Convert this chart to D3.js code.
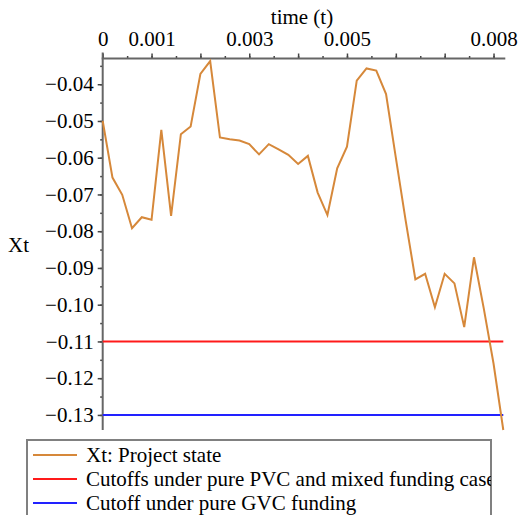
<!DOCTYPE html>
<html>
<head>
<meta charset="utf-8">
<script src="https://cdn.jsdelivr.net/npm/d3@7"></script>
<style>
  html, body { margin: 0; padding: 0; background: #fff; }
  svg { display: block; font-family: "Liberation Serif", "Times New Roman", serif; }
  text { font-family: "Liberation Serif", "Times New Roman", serif; fill: #000; }
</style>
</head>
<body>
<svg id="chart" width="519" height="515"></svg>
<script>
// Sample path of the project state Xt over time t
const timeValues = [
  0, 0.0002, 0.0004, 0.0006, 0.0008, 0.0010, 0.0012, 0.0014, 0.0016, 0.0018,
  0.0020, 0.0022, 0.0024, 0.0026, 0.0028, 0.0030, 0.0032, 0.0034, 0.0036, 0.0038,
  0.0040, 0.0042, 0.0044, 0.0046, 0.0048, 0.0050, 0.0052, 0.0054, 0.0056, 0.0058,
  0.0060, 0.0062, 0.0064, 0.0066, 0.0068, 0.0070, 0.0072, 0.0074, 0.0076, 0.0078,
  0.0080, 0.0082
];
const stateValues = [
  -0.0500, -0.0654, -0.0701, -0.0792, -0.0762, -0.0769, -0.0524, -0.0758, -0.0536, -0.0515,
  -0.0372, -0.0337, -0.0545, -0.0550, -0.0553, -0.0563, -0.0591, -0.0563, -0.0577, -0.0592,
  -0.0617, -0.0595, -0.0695, -0.0756, -0.0629, -0.0570, -0.0390, -0.0357, -0.0363, -0.0427,
  -0.0600, -0.0770, -0.0931, -0.0916, -0.1007, -0.0916, -0.0942, -0.1061, -0.0871, -0.1010,
  -0.1160, -0.1341
];

// Funding cutoffs (horizontal reference levels)
const cutoffPVC = -0.11;
const cutoffGVC = -0.13;

// Axis ticks
const xMajorTicks = [0, 0.001, 0.002, 0.003, 0.004, 0.005, 0.006, 0.007, 0.008];
const xLabelledTicks = [0, 0.001, 0.003, 0.005, 0.008];
const xTickLabels = ["0", "0.001", "0.003", "0.005", "0.008"];
const yMajorTicks = [-0.04, -0.05, -0.06, -0.07, -0.08, -0.09, -0.10, -0.11, -0.12, -0.13];
const yTickLabels = ["\u22120.04", "\u22120.05", "\u22120.06", "\u22120.07", "\u22120.08",
                     "\u22120.09", "\u22120.10", "\u22120.11", "\u22120.12", "\u22120.13"];

const legendLabels = [
  "Xt: Project state",
  "Cutoffs under pure PVC and mixed funding case",
  "Cutoff under pure GVC funding"
];
const seriesColors = ["#d6883a", "#ff1a1a", "#2222ff"];

const svg = d3.select("#chart");
const plotLeft = 102.7, plotRight = 503.3, plotTop = 58.5, plotBottom = 430;

const x = d3.scaleLinear().domain([0, 0.0082]).range([plotLeft, plotRight]);
const y = d3.scaleLinear().domain([-0.033, -0.1341]).range([plotTop, plotBottom]);

const axisColor = "#666";
const fontSize = 21;
const serif = "'Liberation Serif', 'Times New Roman', serif";

// Minor ticks along the top axis
const xMinor = d3.range(0, 0.0082, 0.0005);
const gxMinor = svg.append("g").attr("transform", `translate(0,${plotTop})`)
  .call(d3.axisTop(x).tickValues(xMinor).tickSize(2.5).tickFormat(""));
gxMinor.select(".domain").remove();
gxMinor.selectAll("line").attr("stroke", "#444").attr("stroke-width", 1.5);

// Major ticks and labels on the top axis
const gx = svg.append("g").attr("transform", `translate(0,${plotTop})`)
  .call(d3.axisTop(x).tickValues(xMajorTicks).tickSize(5).tickPadding(8)
    .tickFormat(d => {
      const i = xLabelledTicks.findIndex(v => Math.abs(v - d) < 1e-9);
      return i >= 0 ? xTickLabels[i] : "";
    }));
gx.attr("font-family", serif);
gx.select(".domain").remove();
gx.selectAll("line").attr("stroke", "#444").attr("stroke-width", 1.5);
gx.selectAll("text").style("font-family", serif)
  .style("font-size", fontSize + "px").attr("fill", "#000");

svg.append("line")
  .attr("x1", plotLeft - 1).attr("x2", plotRight + 2)
  .attr("y1", plotTop).attr("y2", plotTop)
  .attr("stroke", axisColor).attr("stroke-width", 2);

// Left axis: minor ticks
const yMinor = d3.range(-0.035, -0.134, -0.005);
const gyMinor = svg.append("g").attr("transform", `translate(${plotLeft},0)`)
  .call(d3.axisLeft(y).tickValues(yMinor).tickSize(2.5).tickFormat(""));
gyMinor.select(".domain").remove();
gyMinor.selectAll("line").attr("stroke", "#444").attr("stroke-width", 1.5);

// Left axis: major ticks with labels
const gy = svg.append("g").attr("transform", `translate(${plotLeft},0)`)
  .call(d3.axisLeft(y).tickValues(yMajorTicks).tickSize(5).tickPadding(4)
    .tickFormat((d, i) => yTickLabels[i]));
gy.attr("font-family", serif);
gy.select(".domain").remove();
gy.selectAll("line").attr("stroke", "#444").attr("stroke-width", 1.5);
gy.selectAll("text").style("font-family", serif)
  .style("font-size", fontSize + "px").attr("fill", "#000");

svg.append("line")
  .attr("x1", plotLeft).attr("x2", plotLeft)
  .attr("y1", plotTop - 6).attr("y2", plotBottom)
  .attr("stroke", axisColor).attr("stroke-width", 2);

// Axis titles
svg.append("text").attr("x", 302).attr("y", 24).attr("text-anchor", "middle")
  .style("font-family", serif).style("font-size", fontSize + "px").text("time (t)");
svg.append("text").attr("x", 8).attr("y", 252)
  .style("font-family", serif).style("font-size", fontSize + "px").text("Xt");

// Cutoff levels
[cutoffPVC, cutoffGVC].forEach((c, i) => {
  svg.append("line")
    .attr("x1", x(0)).attr("x2", x(0.0082))
    .attr("y1", y(c)).attr("y2", y(c))
    .attr("stroke", seriesColors[i + 1]).attr("stroke-width", 2);
});

// Project state path
const pts = timeValues.map((t, i) => [t, stateValues[i]]);
svg.append("path").datum(pts)
  .attr("fill", "none")
  .attr("stroke", seriesColors[0])
  .attr("stroke-width", 2)
  .attr("stroke-linejoin", "miter")
  .attr("d", d3.line().x(d => x(d[0])).y(d => y(d[1])));

// Legend
const lgX = 27, lgY = 440, lgW = 464, lgH = 90;
svg.append("clipPath").attr("id", "legendClip")
  .append("rect").attr("x", lgX).attr("y", lgY).attr("width", lgW).attr("height", lgH);
svg.append("rect").attr("x", lgX).attr("y", lgY).attr("width", lgW).attr("height", lgH)
  .attr("fill", "#fff").attr("stroke", "#808080").attr("stroke-width", 2);
const lg = svg.append("g").attr("clip-path", "url(#legendClip)");
legendLabels.forEach((lab, i) => {
  const cy = 455 + i * 24;
  lg.append("line").attr("x1", 33).attr("x2", 77).attr("y1", cy).attr("y2", cy)
    .attr("stroke", seriesColors[i]).attr("stroke-width", 2);
  lg.append("text").attr("x", 86).attr("y", cy + 7)
    .style("font-family", serif).style("font-size", fontSize + "px").text(lab);
});
</script>
</body>
</html>
